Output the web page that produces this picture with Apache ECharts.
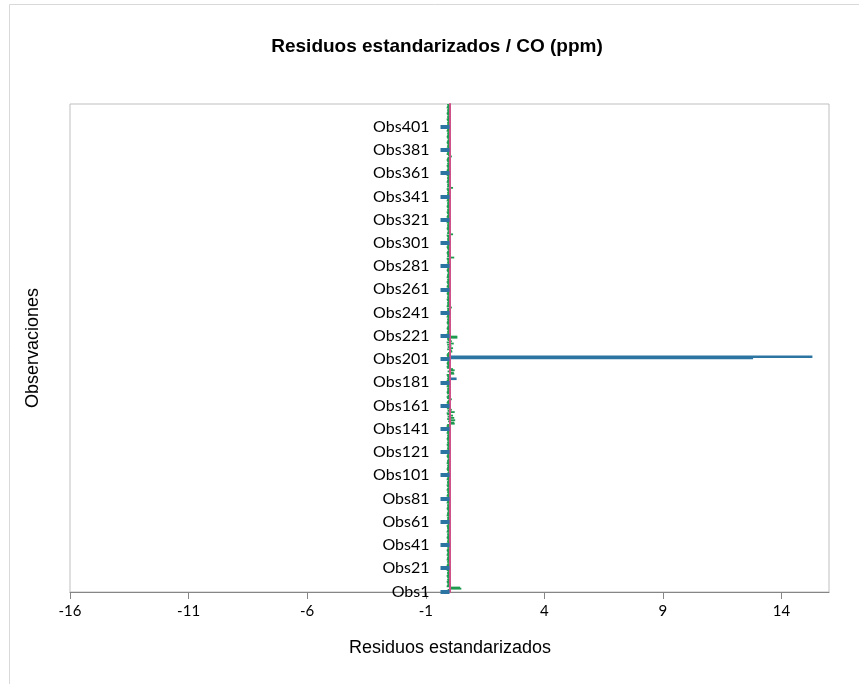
<!DOCTYPE html>
<html>
<head>
<meta charset="utf-8">
<script src="https://cdn.jsdelivr.net/npm/echarts@6/dist/echarts.min.js"></script>
<style>html,body{margin:0;padding:0;background:#fff;}#chart{width:859px;height:684px;}</style>
</head>
<body>
<div id="chart"></div>
<script>
// ---- data ----
const chartTitle = "Residuos estandarizados / CO (ppm)";
const xTitle = "Residuos estandarizados";
const yTitle = "Observaciones";
const obsCount = 420;
const xMin = -16, xMax = 16, xStep = 5;

// standardized residuals (small ones, green bars), Obs1..Obs420
const greenResiduals = [
 -0.1,-0.08,0.5,0.45,-0.12,-0.1,-0.06,-0.1,-0.12,-0.08,-0.1,-0.05,-0.1,-0.12,-0.08,-0.1,-0.1,-0.06,-0.12,-0.1,
 -0.08,-0.1,-0.12,-0.1,-0.05,-0.1,-0.08,-0.12,-0.1,-0.1,-0.06,-0.12,-0.1,-0.08,-0.1,-0.12,-0.1,-0.05,-0.1,-0.08,
 -0.1,-0.12,-0.08,-0.1,-0.06,-0.1,-0.12,-0.1,-0.08,-0.1,-0.05,-0.12,-0.1,-0.08,-0.1,-0.1,-0.12,-0.06,-0.1,-0.08,
 -0.12,-0.1,-0.08,-0.1,-0.05,-0.12,-0.1,-0.1,-0.08,-0.06,-0.1,-0.12,-0.1,-0.08,-0.1,-0.05,-0.12,-0.1,-0.08,-0.1,
 -0.1,-0.08,-0.12,-0.1,-0.06,-0.1,-0.08,-0.12,-0.1,-0.05,-0.1,-0.12,-0.08,-0.1,-0.1,-0.06,-0.12,-0.1,-0.08,-0.1,
 -0.12,-0.1,-0.08,-0.05,-0.1,-0.12,-0.1,-0.08,-0.1,-0.06,-0.12,-0.1,-0.1,-0.08,-0.05,-0.1,-0.12,-0.1,-0.08,-0.1,
 -0.1,-0.12,-0.08,-0.1,-0.06,-0.1,-0.12,-0.08,-0.1,-0.05,-0.1,-0.12,-0.1,-0.08,-0.1,-0.06,-0.12,-0.1,-0.08,-0.1,
 -0.1,-0.08,-0.12,-0.1,0.22,0.2,-0.06,0.24,-0.1,0.2,-0.08,0.15,-0.1,-0.12,0.22,-0.08,0.1,-0.1,-0.12,-0.1,
 -0.1,-0.08,-0.12,-0.1,-0.06,0.1,-0.1,-0.12,-0.08,0.06,-0.1,-0.12,-0.1,-0.08,-0.1,-0.05,-0.12,-0.1,-0.08,-0.1,
 -0.1,-0.12,-0.08,-0.1,-0.06,-0.1,-0.12,0.2,0.18,-0.08,0.22,0.15,-0.1,-0.12,-0.08,-0.1,-0.12,-0.1,-0.06,-0.1,
 -0.1,-0.08,-0.1,-0.12,-0.1,-0.06,0.12,0.1,-0.1,0.15,-0.08,0.08,-0.1,0.18,-0.12,0.1,-0.08,-0.1,0.33,0.33,
 -0.1,-0.12,-0.08,-0.1,-0.06,-0.1,-0.12,-0.1,-0.08,-0.05,-0.1,-0.12,-0.1,-0.08,-0.1,-0.06,-0.12,-0.1,-0.08,-0.1,
 -0.12,-0.1,-0.08,-0.1,0.1,-0.12,-0.1,-0.08,-0.1,-0.06,-0.1,-0.12,-0.08,-0.1,-0.05,-0.1,-0.12,-0.1,-0.08,-0.1,
 -0.1,-0.08,-0.12,-0.1,-0.06,-0.1,-0.12,-0.08,-0.1,-0.05,-0.12,-0.1,-0.1,-0.08,-0.06,-0.1,-0.12,-0.1,-0.08,-0.1,
 -0.1,-0.12,-0.08,-0.1,-0.06,-0.1,-0.12,0.2,-0.1,-0.08,-0.1,-0.12,-0.1,-0.05,-0.08,-0.1,-0.12,-0.1,-0.06,-0.1,
 -0.12,-0.1,-0.08,-0.1,-0.06,-0.1,-0.12,0.15,-0.1,-0.08,-0.05,-0.1,-0.12,-0.1,-0.08,-0.1,-0.06,-0.12,-0.1,-0.1,
 -0.1,-0.08,-0.12,-0.1,-0.06,-0.1,-0.12,-0.08,-0.1,-0.05,-0.1,-0.12,-0.1,-0.08,-0.1,-0.06,-0.12,-0.1,-0.08,-0.1,
 -0.12,-0.1,-0.08,-0.1,-0.06,-0.1,-0.12,0.15,-0.1,-0.08,-0.1,-0.05,-0.12,-0.1,-0.08,-0.1,-0.1,-0.06,-0.12,-0.1,
 -0.1,-0.08,-0.12,-0.1,-0.06,-0.1,-0.12,-0.08,-0.1,-0.05,-0.1,-0.12,-0.1,-0.08,0.1,-0.06,-0.12,-0.1,-0.08,-0.1,
 -0.1,-0.12,-0.08,-0.1,-0.06,-0.1,-0.12,-0.1,-0.08,-0.05,-0.1,-0.12,-0.1,-0.08,-0.1,-0.06,-0.12,-0.1,-0.08,-0.1,
 -0.12,-0.1,-0.08,-0.1,-0.06,-0.1,-0.12,-0.08,-0.1,-0.05,-0.1,-0.12,-0.1,-0.08,-0.1,-0.06,-0.12,-0.1,-0.08,-0.1
];

// larger residuals (blue bars): observation numbers and their values
const blueObs = [184, 202, 203];
const blueValues = [0.3, 12.8, 15.3];

// ---- build ----
const categories = [];
for (let i = 1; i <= obsCount; i++) categories.push("Obs" + i);
const blueData = categories.map(() => null);
blueObs.forEach((o, j) => { blueData[o - 1] = blueValues[j]; });

const BLUE = "#2C74A2", GREEN = "#1E9A4E", PINK = "#D0508A";
const GRID = {left: 70, right: 30, top: 104, bottom: 92};
const plotW = 859 - GRID.left - GRID.right;
const zeroOffset = -plotW * (0 - xMin) / (xMax - xMin); // move y axis onto x = 0

const chart = echarts.init(document.getElementById("chart"), null, {renderer: "canvas"});
chart.setOption({
  animation: false,
  backgroundColor: "#fff",
  grid: Object.assign({show: true, borderColor: "#bfbfbf", borderWidth: 1, containLabel: false, outerBoundsMode: "none"}, GRID),
  xAxis: {
    type: "value", min: xMin, max: xMax, interval: xStep,
    axisLine: {show: true, onZero: false, lineStyle: {color: "#868686", width: 1}},
    axisTick: {show: true, length: 7, lineStyle: {color: "#868686"}},
    axisLabel: {color: "#000", fontFamily: "Lato", fontSize: 15, margin: 12, showMaxLabel: false},
    splitLine: {show: false}
  },
  yAxis: {
    type: "category", data: categories, z: 10, position: "left", offset: zeroOffset,
    axisLine: {show: true, onZero: false, lineStyle: {color: PINK, width: 2}},
    axisTick: {show: true, interval: 19, alignWithLabel: true, length: 9, lineStyle: {color: BLUE, width: 4}},
    axisLabel: {interval: 19, color: "#000", fontFamily: "Lato", fontSize: 16, margin: 20},
    splitLine: {show: false}
  },
  series: [
    {name: "Residuos", type: "bar", data: greenResiduals, itemStyle: {color: GREEN},
     barWidth: 1.8, barGap: "-100%"},
    {name: "Residuos grandes", type: "bar", data: blueData, itemStyle: {color: BLUE},
     barWidth: 2.6, barGap: "-100%"}
  ],
  graphic: [
    {type: "rect", shape: {x: 9.5, y: 4.5, width: 900, height: 720}, style: {fill: "none", stroke: "#d9d9d9", lineWidth: 1}, silent: true},
    {type: "text", x: 437, y: 47, style: {text: chartTitle, font: "bold 19px 'Liberation Sans', Arial", fill: "#000", textAlign: "center", textVerticalAlign: "middle"}},
    {type: "text", x: 450, y: 648, style: {text: xTitle, font: "18px 'Liberation Sans', Arial", fill: "#000", textAlign: "center", textVerticalAlign: "middle"}},
    {type: "text", x: 33, y: 348, rotation: Math.PI / 2, style: {text: yTitle, font: "18px 'Liberation Sans', Arial", fill: "#000", textAlign: "center", textVerticalAlign: "middle"}}
  ]
});
</script>
</body>
</html>
